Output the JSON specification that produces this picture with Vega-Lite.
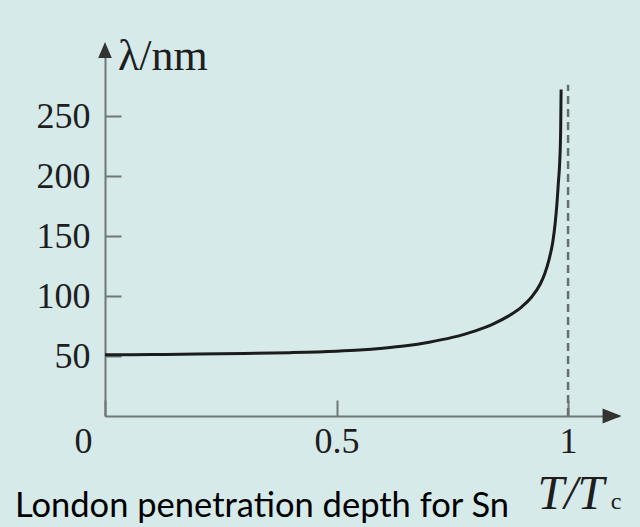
{
  "$schema": "https://vega.github.io/schema/vega-lite/v6.json",
  "autosize": "none",
  "width": 514,
  "height": 360,
  "padding": {"left": 105, "top": 56, "right": 21, "bottom": 111},
  "background": "#d6eaea",
  "config": {"view": {"stroke": null}},
  "title": {
    "text": "London penetration depth for Sn",
    "orient": "bottom",
    "anchor": "start",
    "frame": "group",
    "font": "Lato",
    "fontSize": 34.5,
    "fontWeight": "normal",
    "color": "#000000",
    "dx": -90,
    "offset": -29
  },
  "datasets": {
    "curve": [
      {"t": 0.0, "lam": 51},
      {"t": 0.1, "lam": 51.2},
      {"t": 0.2, "lam": 51.6},
      {"t": 0.3, "lam": 52.1},
      {"t": 0.4, "lam": 52.8},
      {"t": 0.5, "lam": 54},
      {"t": 0.55, "lam": 55},
      {"t": 0.6, "lam": 56.5},
      {"t": 0.65, "lam": 58.5},
      {"t": 0.7, "lam": 61.5},
      {"t": 0.75, "lam": 65.5},
      {"t": 0.8, "lam": 71},
      {"t": 0.84, "lam": 77},
      {"t": 0.87, "lam": 83},
      {"t": 0.9, "lam": 91},
      {"t": 0.92, "lam": 98.5},
      {"t": 0.94, "lam": 110},
      {"t": 0.95, "lam": 119},
      {"t": 0.96, "lam": 132},
      {"t": 0.967, "lam": 145},
      {"t": 0.972, "lam": 160},
      {"t": 0.976, "lam": 177},
      {"t": 0.979, "lam": 194},
      {"t": 0.982, "lam": 212},
      {"t": 0.984, "lam": 238},
      {"t": 0.985, "lam": 272}
    ],
    "tc": [{"t": 1, "lo": 0, "hi": 276}],
    "yArrow": [{"t": 0, "lam": 305}],
    "xArrow": [{"t": 1.095, "lam": 0}],
    "yTitle": [{"t": 0.028, "lam": 288, "text": "λ/nm"}],
    "xTitle": [{"t": 0.934, "lam": -77.5, "text": "T/T"}],
    "xTitleSub": [{"t": 1.092, "lam": -77.5, "text": "c"}]
  },
  "layer": [
    {
      "data": {"name": "tc"},
      "mark": {"type": "rule", "strokeDash": [8, 5], "color": "#667070", "strokeWidth": 2.5},
      "encoding": {
        "x": {
          "field": "t",
          "type": "quantitative",
          "scale": {"domain": [0, 1.11], "nice": false},
          "axis": {
            "values": [0, 0.5, 1],
            "format": "~g",
            "title": null,
            "grid": false,
            "domainColor": "#6f7777",
            "domainWidth": 2,
            "tickColor": "#6f7777",
            "tickWidth": 2,
            "tickSize": -16,
            "labelFont": "Liberation Serif",
            "labelFontSize": 36,
            "labelColor": "#1e1e1e",
            "labelPadding": 24,
            "labelFlush": false,
            "labelOverlap": false,
            "labelAlign": {"condition": {"test": "datum.value == 0", "value": "right"}, "value": "center"},
            "labelOffset": {"condition": {"test": "datum.value == 0", "value": -13}, "value": 0}
          }
        },
        "y": {
          "field": "lo",
          "type": "quantitative",
          "scale": {"domain": [0, 300], "nice": false},
          "axis": {
            "values": [50, 100, 150, 200, 250],
            "title": null,
            "grid": false,
            "domainColor": "#6f7777",
            "domainWidth": 2,
            "tickColor": "#6f7777",
            "tickWidth": 2,
            "tickSize": -16,
            "labelFont": "Liberation Serif",
            "labelFontSize": 36,
            "labelColor": "#1e1e1e",
            "labelPadding": 31
          }
        },
        "y2": {"field": "hi"}
      }
    },
    {
      "data": {"name": "curve"},
      "mark": {"type": "line", "interpolate": "monotone", "color": "#1c1c1c", "strokeWidth": 3},
      "encoding": {
        "x": {"field": "t", "type": "quantitative"},
        "y": {"field": "lam", "type": "quantitative"}
      }
    },
    {
      "data": {"name": "yArrow"},
      "mark": {"type": "point", "shape": "M0,-1L0.85,1L-0.85,1Z", "size": 256, "filled": true, "color": "#333333", "opacity": 1},
      "encoding": {
        "x": {"field": "t", "type": "quantitative"},
        "y": {"field": "lam", "type": "quantitative"}
      }
    },
    {
      "data": {"name": "xArrow"},
      "mark": {"type": "point", "shape": "M1,0L-1,-0.8L-1,0.8Z", "size": 361, "filled": true, "color": "#333333", "opacity": 1},
      "encoding": {
        "x": {"field": "t", "type": "quantitative"},
        "y": {"field": "lam", "type": "quantitative"}
      }
    },
    {
      "data": {"name": "yTitle"},
      "mark": {"type": "text", "align": "left", "baseline": "alphabetic", "font": "Liberation Serif", "fontSize": 44, "color": "#1e1e1e"},
      "encoding": {
        "x": {"field": "t", "type": "quantitative"},
        "y": {"field": "lam", "type": "quantitative"},
        "text": {"field": "text"}
      }
    },
    {
      "data": {"name": "xTitle"},
      "mark": {"type": "text", "align": "left", "baseline": "alphabetic", "font": "Liberation Serif", "fontSize": 48, "fontStyle": "italic", "color": "#1e1e1e"},
      "encoding": {
        "x": {"field": "t", "type": "quantitative"},
        "y": {"field": "lam", "type": "quantitative"},
        "text": {"field": "text"}
      }
    },
    {
      "data": {"name": "xTitleSub"},
      "mark": {"type": "text", "align": "left", "baseline": "alphabetic", "font": "Liberation Serif", "fontSize": 24, "color": "#1e1e1e"},
      "encoding": {
        "x": {"field": "t", "type": "quantitative"},
        "y": {"field": "lam", "type": "quantitative"},
        "text": {"field": "text"}
      }
    }
  ]
}
